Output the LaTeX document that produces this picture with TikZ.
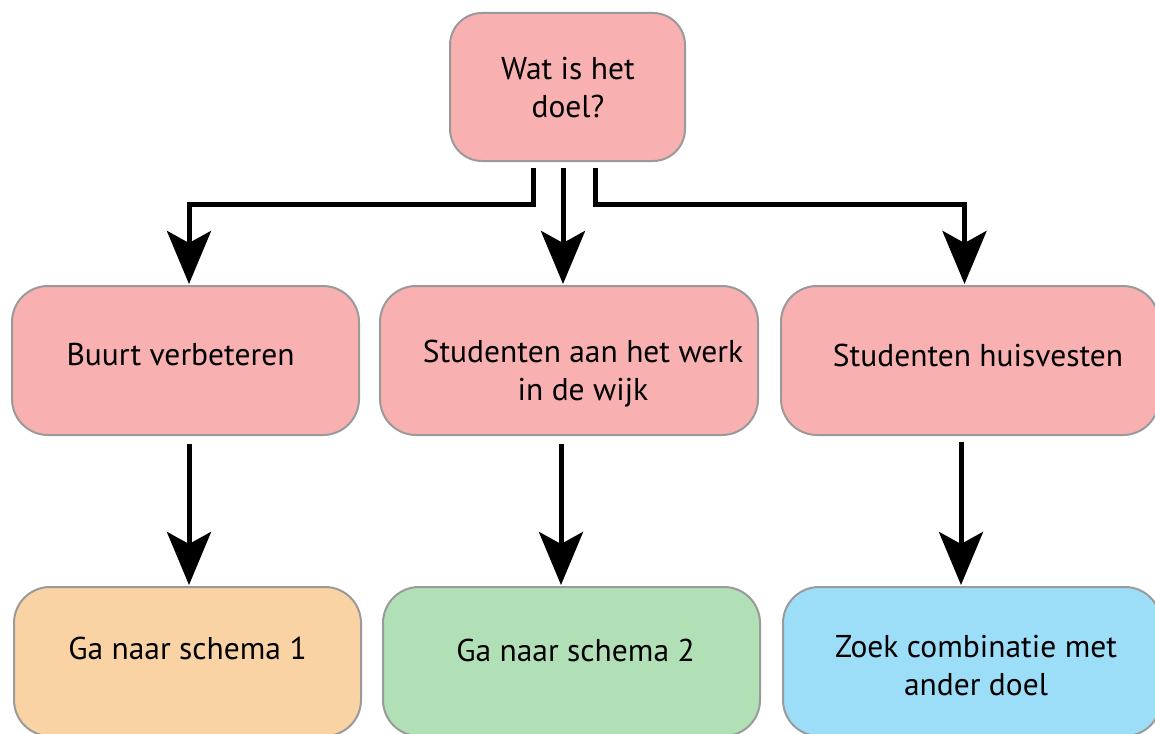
\documentclass[tikz,border=0pt]{standalone}
\usepackage{fontspec}
\setmainfont{PT Sans}
\usetikzlibrary{arrows.meta,calc}
\definecolor{pinkbox}{HTML}{F8B0B0}
\definecolor{orangebox}{HTML}{FAD3A5}
\definecolor{greenbox}{HTML}{B1E0B7}
\definecolor{bluebox}{HTML}{9CDEF8}
\definecolor{edgegray}{HTML}{9A9A9A}
\newcommand\twolines[1]{\begin{tabular}[t]{@{}c@{}}#1\end{tabular}}
\tikzset{
  box/.style={draw=edgegray, line width=2pt, rounded corners=36pt, inner sep=0pt},
  txt/.style={anchor=base, inner sep=0pt, font=\fontsize{31.5}{38}\selectfont},
  arr/.style={line width=5pt, draw=black, -{Stealth[length=53pt, width=44pt, inset=12pt]}}
}
\begin{document}
\begin{tikzpicture}[x=1pt, y=-1pt]
\useasboundingbox (0,0) rectangle (1155,733);
% boxes
\node[box, rounded corners=32pt, fill=pinkbox, minimum width=235pt, minimum height=148pt] (top) at (567.5,87) {};
\node[box, fill=pinkbox, minimum width=347pt, minimum height=149pt] (midL) at (185.5,360.5) {};
\node[box, fill=pinkbox, minimum width=378pt, minimum height=149pt] (midM) at (569,360.5) {};
\node[box, fill=pinkbox, minimum width=378pt, minimum height=149pt] (midR) at (970,360.5) {};
\node[box, fill=orangebox, minimum width=347pt, minimum height=149pt] (botL) at (187.5,661.5) {};
\node[box, fill=greenbox, minimum width=377pt, minimum height=149pt] (botM) at (571.5,661.5) {};
\node[box, fill=bluebox, minimum width=378pt, minimum height=149pt] (botR) at (972,661.5) {};
% texts
\node[txt] (ttop) at (568,80) {\twolines{Wat is het\\doel?}};
\node[txt] (tmidL) at (180.5,365) {Buurt verbeteren};
\node[txt] (tmidM) at (583,362) {\twolines{Studenten aan het werk\\in de wijk}};
\node[txt] (tmidR) at (978,366) {Studenten huisvesten};
\node[txt] (tbotL) at (187.5,659) {Ga naar schema 1};
\node[txt] (tbotM) at (575.5,661) {Ga naar schema 2};
\node[txt] (tbotR) at (976,657) {\twolines{Zoek combinatie met\\ander doel}};
% connectors
\coordinate (jL) at (189,204.5);
\coordinate (jR) at (964.5,204.5);
\draw[arr] ($(top.south)+(-34.5,6)$) |- (jL) -- ($(midL.north)+(3.5,-1)$);
\draw[arr] ($(top.south)+(-4.5,6)$) -- ($(midM.north)+(-6,-1)$);
\draw[arr] ($(top.south)+(27.5,6)$) |- (jR) -- ($(midR.north)+(-5.5,-1)$);
\draw[arr] ($(midL.south)+(3.5,8)$) -- ($(botL.north)+(1.5,-1)$);
\draw[arr] ($(midM.south)+(-8,8)$) -- ($(botM.north)+(-10.5,-1)$);
\draw[arr] ($(midR.south)+(-9,6)$) -- ($(botR.north)+(-11,-1)$);
\end{tikzpicture}
\end{document}
